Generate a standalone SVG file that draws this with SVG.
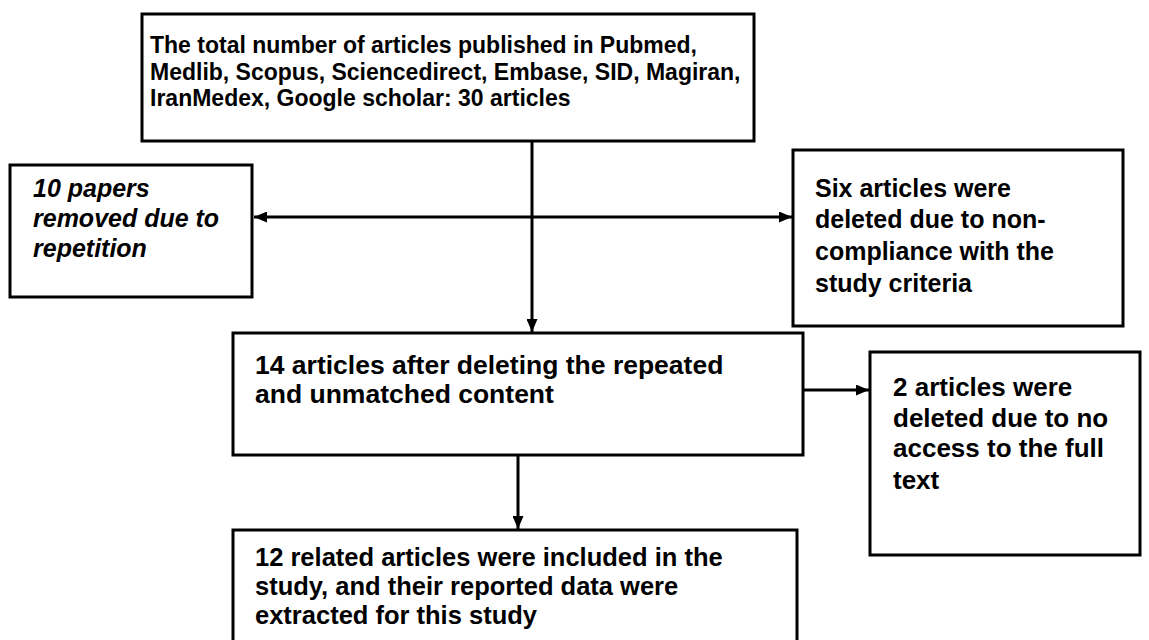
<svg xmlns="http://www.w3.org/2000/svg" width="1149" height="640" viewBox="0 0 1149 640">
<style>
.box{fill:#fff;stroke:#000;stroke-width:3}
.t{font-family:"Liberation Sans",Arial,sans-serif;font-weight:bold;font-size:26px;fill:#000}
.s{font-size:23px}
.m{font-size:26.5px}
.b{font-size:25.5px}
.x{font-size:25px}
.i{font-style:italic;font-size:25px}
.c{stroke:#000;stroke-width:3;fill:none}
</style>
<defs>
<marker id="ah" markerWidth="13" markerHeight="11" refX="13" refY="5.5" orient="auto-start-reverse" markerUnits="userSpaceOnUse">
<path d="M0,0 L13,5.5 L0,11 Z" fill="#000"/>
</marker>
</defs>
<rect width="1149" height="640" fill="#fff"/>
<g id="connectors">
<line class="c" x1="532" y1="141" x2="532" y2="332" marker-end="url(#ah)"/>
<line class="c" x1="254" y1="217" x2="792" y2="217" marker-start="url(#ah)" marker-end="url(#ah)"/>
<line class="c" x1="803" y1="390" x2="869" y2="390" marker-end="url(#ah)"/>
<line class="c" x1="518" y1="455" x2="518" y2="529" marker-end="url(#ah)"/>
</g>
<g id="n-total">
<rect class="box" x="142" y="14" width="612" height="127"/>
<text class="t s" x="150" y="53">The total number of articles published in Pubmed,</text>
<text class="t s" x="150" y="80">Medlib, Scopus, Sciencedirect, Embase, SID, Magiran,</text>
<text class="t s" x="150" y="106">IranMedex, Google scholar: 30 articles</text>
</g>
<g id="n-repeat">
<rect class="box" x="10" y="165" width="242" height="132"/>
<text class="t i" x="33" y="197">10 papers</text>
<text class="t i" x="33" y="227">removed due to</text>
<text class="t i" x="33" y="257">repetition</text>
</g>
<g id="n-six">
<rect class="box" x="793" y="150" width="330" height="176"/>
<text class="t x" x="815" y="197">Six articles were</text>
<text class="t x" x="815" y="228">deleted due to non-</text>
<text class="t x" x="815" y="260">compliance with the</text>
<text class="t x" x="815" y="292">study criteria</text>
</g>
<g id="n-fourteen">
<rect class="box" x="233" y="333" width="570" height="122"/>
<text class="t m" x="255" y="374">14 articles after deleting the repeated</text>
<text class="t m" x="255" y="403">and unmatched content</text>
</g>
<g id="n-two">
<rect class="box" x="870" y="352" width="270" height="203"/>
<text class="t" x="893" y="396">2 articles were</text>
<text class="t" x="893" y="427">deleted due to no</text>
<text class="t" x="893" y="457">access to the full</text>
<text class="t" x="893" y="489">text</text>
</g>
<g id="n-twelve">
<rect class="box" x="233" y="530" width="564" height="120"/>
<text class="t b" x="255" y="566">12 related articles were included in the</text>
<text class="t b" x="255" y="595">study, and their reported data were</text>
<text class="t b" x="255" y="624">extracted for this study</text>
</g>
</svg>
